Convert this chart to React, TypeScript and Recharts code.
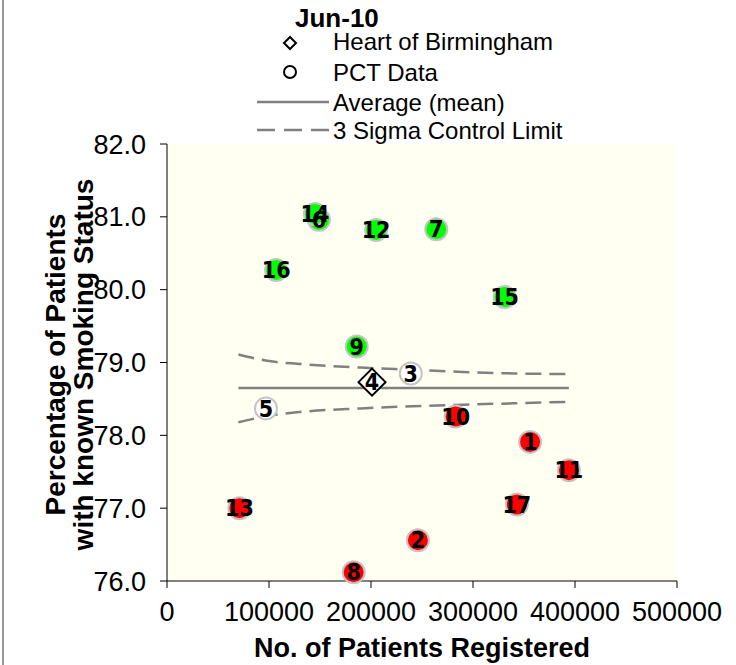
import { ComposedChart, Scatter, Line, XAxis, YAxis, CartesianGrid, LabelList } from 'recharts';

// PCT points: id, patients registered, % with known smoking status, band vs control limits
const pctIds = [1, 2, 3, 5, 6, 7, 8, 9, 10, 11, 12, 13, 14, 15, 16, 17];
const pctRegistered = [356000, 246000, 239000, 97000, 149000, 264000, 183000, 186000, 283000, 394000, 205000, 71000, 145000, 331000, 107000, 343000];
const pctPercent = [77.91, 76.56, 78.85, 78.37, 80.96, 80.83, 76.12, 79.22, 78.26, 77.52, 80.82, 77.0, 81.04, 79.9, 80.27, 77.05];
const pctBand = ['below', 'below', 'within', 'within', 'above', 'above', 'below', 'above', 'below', 'below', 'above', 'below', 'above', 'above', 'above', 'below'];

// Heart of Birmingham
const hobId = 4;
const hobRegistered = 201000;
const hobPercent = 78.73;

// average and 3 sigma limits
const meanRegistered = [70000, 394000];
const meanPercent = [78.65, 78.65];
const limitRegistered = [70000, 100000, 130000, 190000, 240000, 290000, 340000, 394000];
const upperLimit = [79.11, 79.02, 78.98, 78.93, 78.9, 78.87, 78.85, 78.84];
const lowerLimit = [78.18, 78.27, 78.32, 78.37, 78.4, 78.42, 78.44, 78.46];

const xTicks = [0, 100000, 200000, 300000, 400000, 500000];
const yTicks = [76, 77, 78, 79, 80, 81, 82];

const bandColors: Record<string, string> = { above: '#00ff00', within: '#ffffff', below: '#ff0000' };

const pctPoints = pctIds.map((id, i) => ({ id, x: pctRegistered[i], y: pctPercent[i], band: pctBand[i] }));
const hobData = [{ id: hobId, x: hobRegistered, y: hobPercent }];
const meanData = meanRegistered.map((x, i) => ({ x, y: meanPercent[i] }));
const upperData = limitRegistered.map((x, i) => ({ x, y: upperLimit[i] }));
const lowerData = limitRegistered.map((x, i) => ({ x, y: lowerLimit[i] }));

const FONT = '"Liberation Sans", Arial, sans-serif';
const NARROW = '"Liberation Sans Narrow", "DejaVu Sans Condensed", sans-serif';
const GREY = '#808080';

const labelStyle = { fill: '#000', fontSize: 23, fontWeight: 'bold', fontFamily: NARROW };

const Bubble = (props: any) => {
  const { cx, cy, payload } = props;
  return <circle cx={cx} cy={cy} r={11} fill={bandColors[payload.band]} stroke="#c4c4c4" strokeWidth={2} />;
};

const Diamond = (props: any) => {
  const { cx, cy } = props;
  const d = 13.5;
  return (
    <polygon
      points={`${cx},${cy - d} ${cx + d},${cy} ${cx},${cy + d} ${cx - d},${cy}`}
      fill="#fff"
      stroke="#000"
      strokeWidth={2}
    />
  );
};

const YTitle = (props: any) => {
  const { viewBox } = props;
  const cy = viewBox.y + viewBox.height / 2 + 2;
  const x1 = viewBox.x + 55;
  const x2 = viewBox.x + 83;
  return (
    <g fontFamily={FONT} fontSize={28} fontWeight="bold" fill="#000">
      <text x={x1} y={cy} dy="0.36em" textAnchor="middle" transform={`rotate(-90 ${x1} ${cy})`}>
        Percentage of Patients
      </text>
      <text x={x2} y={cy} dy="0.36em" textAnchor="middle" transform={`rotate(-90 ${x2} ${cy})`}>
        with known Smoking Status
      </text>
    </g>
  );
};

function ChartLegend() {
  return (
    <svg width={736} height={145} style={{ position: 'absolute', left: 0, top: 0 }} fontFamily={FONT}>
      <text x={295} y={27} fontSize={26} fontWeight="bold">Jun-10</text>
      <polygon points="290,37 296,43 290,49 284,43" fill="#fff" stroke="#000" strokeWidth={2} />
      <text x={333} y={50} fontSize={24}>Heart of Birmingham</text>
      <circle cx={290} cy={72} r={6} fill="#fff" stroke="#000" strokeWidth={2} />
      <text x={333} y={80.5} fontSize={24}>PCT Data</text>
      <line x1={257} x2={329} y1={102} y2={102} stroke={GREY} strokeWidth={2.5} />
      <text x={333} y={110.5} fontSize={24}>Average (mean)</text>
      <line x1={257} x2={329} y1={130} y2={130} stroke={GREY} strokeWidth={2.5} strokeDasharray="18 9" />
      <text x={333} y={138.5} fontSize={24}>3 Sigma Control Limit</text>
    </svg>
  );
}

export default function App() {
  return (
    <div style={{ position: 'absolute', left: 0, top: 0, width: 736, height: 665, background: '#fff', fontFamily: FONT }}>
      <div style={{ position: 'absolute', left: 2, top: 0, width: 2, height: 665, background: '#999' }} />
      <ComposedChart width={736} height={665} margin={{ top: 144, right: 59, bottom: 0, left: 0 }}>
        <CartesianGrid fill="#fffff2" horizontal={false} vertical={false} />
        <XAxis
          dataKey="x"
          type="number"
          domain={[0, 500000]}
          ticks={xTicks}
          height={84}
          tickSize={7}
          tickMargin={14}
          axisLine={{ stroke: GREY, strokeWidth: 2 }}
          tickLine={{ stroke: '#000' }}
          tick={{ fill: '#000', fontSize: 27, fontFamily: FONT }}
          interval={0}
          label={{ value: 'No. of Patients Registered', position: 'insideBottom', offset: 8, fill: '#000', fontSize: 27, fontWeight: 'bold', fontFamily: FONT }}
        />
        <YAxis
          dataKey="y"
          type="number"
          domain={[76, 82]}
          ticks={yTicks}
          width={167}
          tickSize={7}
          tickMargin={14}
          axisLine={{ stroke: '#000' }}
          tickLine={{ stroke: '#000' }}
          tick={{ fill: '#000', fontSize: 27, fontFamily: FONT }}
          tickFormatter={(v: number) => v.toFixed(1)}
          interval={0}
          label={<YTitle />}
        />
        <Line data={upperData} dataKey="y" type="monotone" dot={false} stroke={GREY} strokeWidth={2.5} strokeDasharray="16 8" isAnimationActive={false} />
        <Line data={lowerData} dataKey="y" type="monotone" dot={false} stroke={GREY} strokeWidth={2.5} strokeDasharray="16 8" isAnimationActive={false} />
        <Line data={meanData} dataKey="y" type="linear" dot={false} stroke={GREY} strokeWidth={2.5} isAnimationActive={false} />
        <Scatter data={pctPoints} dataKey="y" shape={Bubble} isAnimationActive={false}>
          <LabelList dataKey="id" position="center" {...labelStyle} />
        </Scatter>
        <Scatter data={hobData} dataKey="y" shape={Diamond} isAnimationActive={false}>
          <LabelList dataKey="id" position="center" {...labelStyle} />
        </Scatter>
      </ComposedChart>
      <ChartLegend />
    </div>
  );
}
